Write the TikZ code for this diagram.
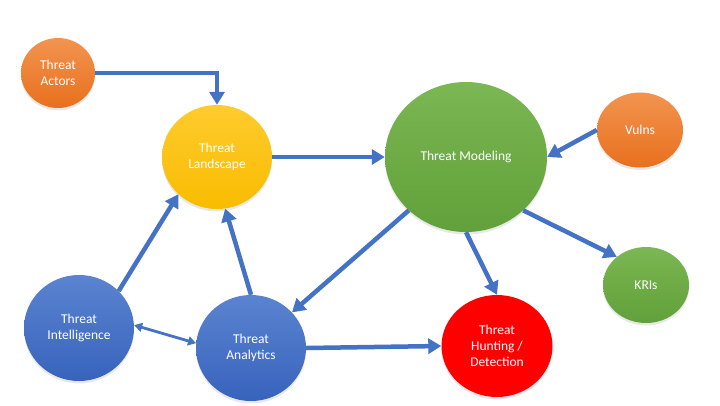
\documentclass[tikz,border=0pt]{standalone}
\usepackage{fontspec}
\setmainfont{Carlito}
\usetikzlibrary{shapes.geometric,arrows.meta,shadows}
\definecolor{arrblue}{HTML}{4472C4}
\definecolor{ortop}{HTML}{F29450}
\definecolor{orbot}{HTML}{E8701D}
\definecolor{gdtop}{HTML}{FFCB2E}
\definecolor{gdbot}{HTML}{F8BC00}
\definecolor{grtop}{HTML}{7BB752}
\definecolor{grbot}{HTML}{61A03A}
\definecolor{bltop}{HTML}{5A84D0}
\definecolor{blbot}{HTML}{3863BC}
\tikzset{
  bubble/.style={ellipse, inner sep=0pt, text=white, align=center,
    font=\fontsize{13.5}{16}\selectfont,
    drop shadow={opacity=0.18, shadow xshift=0pt, shadow yshift=-2.5pt}},
  orangeb/.style={bubble, top color=ortop, bottom color=orbot},
  goldb/.style={bubble, top color=gdtop, bottom color=gdbot},
  greenb/.style={bubble, top color=grtop, bottom color=grbot},
  blueb/.style={bubble, top color=bltop, bottom color=blbot},
  redb/.style={bubble, fill=red},
  arr/.style={draw=arrblue, line width=4.5pt, -{Triangle[length=13pt,width=15pt]}},
  darr/.style={draw=arrblue, line width=2.8pt, {Triangle[length=8pt,width=9pt]}-{Triangle[length=8pt,width=9pt]}}
}
\begin{document}
\begin{tikzpicture}[x=1pt,y=-1pt]
\useasboundingbox (0,0) rectangle (720,405);
\node[orangeb, minimum width=74pt, minimum height=70pt] (act) at (58,73) {Threat\\Actors};
\node[goldb, minimum width=110pt, minimum height=104pt] (land) at (217,157) {Threat\\Landscape};
\node[greenb, minimum width=162pt, minimum height=150pt] (mod) at (466,157) {Threat Modeling};
\node[orangeb, minimum width=86pt, minimum height=75pt] (vul) at (640,130) {Vulns};
\node[greenb, minimum width=86pt, minimum height=76pt] (kri) at (646,285) {KRIs};
\node[blueb, minimum width=110pt, minimum height=106pt] (intel) at (79,328) {Threat\\Intelligence};
\node[blueb, minimum width=110pt, minimum height=106pt] (ana) at (251,348) {Threat\\Analytics};
\node[redb, minimum width=111pt, minimum height=102pt] (hunt) at (497,346) {Threat\\Hunting /\\Detection};

\draw[arr] (act.east) -| (land.north);
\draw[arr] (land.east) -- (mod.west);
\draw[arr] (vul.west) -- (mod.east);
\draw[arr] (mod.-43) -- (kri.136);
\draw[arr] (mod.south) -- (hunt.north);
\draw[arr] (mod.223) -- (ana.41);
\draw[arr] (ana.east) -- (hunt.west);
\draw[arr] (intel.43) -- (land.224);
\draw[arr] (ana.north) -- (land.-81);
\draw[darr] (intel.3) -- (ana.175);
\end{tikzpicture}
\end{document}
